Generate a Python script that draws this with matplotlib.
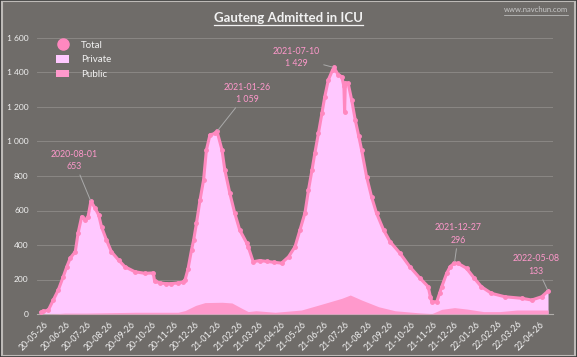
import matplotlib
matplotlib.use("Agg")
import matplotlib.pyplot as plt
import matplotlib.dates as mdates
from matplotlib.lines import Line2D
from matplotlib.patches import Patch
import numpy as np
import pandas as pd

plt.rcParams['font.family'] = ['Lato', 'DejaVu Sans']

# ---- data ----
start = pd.Timestamp("2020-05-26")
total_days = [-3, 0, 7, 14, 21, 28, 33, 38, 45, 49, 54, 59, 63, 67, 73, 78, 82, 89, 96, 106,
              115, 129, 143, 155, 157, 165, 173, 180, 190, 197, 200, 204, 209, 212, 216, 221,
              226, 230, 235, 242, 245, 252, 256, 263, 270, 277, 287, 289, 296, 305, 315, 325,
              336, 346, 355, 362, 369, 374, 379, 383, 388, 393, 397, 402, 408, 410, 416, 421,
              424, 425, 426, 430, 435, 440, 445, 449, 456, 463, 470, 480, 489, 503, 517, 531,
              543, 546, 548, 555, 559, 562, 569, 574, 580, 585, 597, 608, 618, 632, 651, 675,
              689, 703, 712]
total_vals = [10, 15, 23, 81, 139, 216, 274, 325, 361, 470, 564, 545, 564, 653, 614, 574, 506,
              429, 361, 313, 274, 245, 236, 238, 190, 180, 176, 176, 180, 185, 200, 260, 371,
              429, 527, 661, 777, 951, 1038, 1047, 1059, 951, 835, 701, 585, 487, 411, 390,
              303, 310, 305, 300, 295, 332, 390, 487, 585, 719, 835, 933, 1047, 1164, 1260,
              1357, 1414, 1429, 1386, 1376, 1320, 1173, 1340, 1337, 1240, 1125, 1030, 951, 796,
              680, 585, 487, 420, 353, 274, 209, 158, 100, 71, 71, 120, 158, 236, 275, 296,
              294, 265, 207, 158, 120, 100, 91, 81, 100, 133]
public_days = [-3, 20, 30, 60, 100, 130, 190, 200, 215, 228, 252, 266, 280, 289, 300, 327, 364,
               397, 421, 433, 449, 473, 496, 529, 548, 562, 580, 597, 621, 644, 668, 712]
public_vals = [0, 2, 5, 5, 8, 10, 10, 20, 50, 66, 68, 64, 33, 14, 19, 10, 23, 62, 91, 110, 81,
               42, 19, 7, 2, 27, 37, 29, 14, 14, 23, 23]
peaks = [("2020-08-01", 653), ("2021-01-26", 1059), ("2021-07-10", 1429),
         ("2021-12-27", 296), ("2022-05-08", 133)]
peak_offsets = [(-17, 41), (30, 38), (-38, 10), (4, 29), (-12, 26)]

total_dates = [start + pd.Timedelta(days=d) for d in total_days]
public_dates = [start + pd.Timedelta(days=d) for d in public_days]

BG = "#6f6c69"
PRIV = "#ffc8ff"
PUB = "#ff99cc"
TOT = "#ff88bf"
TXT = "#f2f2f2"

fig = plt.figure(figsize=(5.77, 3.57), dpi=100, facecolor=BG)
ax = fig.add_axes([37/577, 1-314/357, (553-37)/577, (314-38)/357])
ax.set_facecolor(BG)

ax.fill_between(total_dates, 0, total_vals, color=PRIV, lw=0, zorder=2)
ax.fill_between(public_dates, 0, public_vals, color=PUB, lw=0, zorder=3)
ax.plot(total_dates, total_vals, color=TOT, lw=2.2, zorder=4)
ax.plot(total_dates, total_vals, 'o', color=TOT, ms=2.5, zorder=5)

ax.set_ylim(0, 1600)
ax.set_xlim(pd.Timestamp("2020-05-17"), pd.Timestamp("2022-05-15"))
ax.set_yticks(range(0, 1601, 200))
ax.set_yticklabels([f"{v:,}".replace(",", " ") for v in range(0, 1601, 200)])
ax.yaxis.grid(True, color="#8a8784", lw=0.7, zorder=0)
ax.set_axisbelow(True)

xt = pd.date_range("2020-05-01", "2022-04-01", freq="MS") + pd.Timedelta(days=25)
ax.set_xticks(xt)
ax.xaxis.set_major_formatter(mdates.DateFormatter("%y-%m-%d"))
for lab in ax.get_xticklabels():
    lab.set_rotation(45)
    lab.set_ha('right')
    lab.set_rotation_mode('anchor')
ax.tick_params(axis='both', length=0, colors=TXT)
ax.tick_params(axis='x', pad=4, labelsize=6.3)
ax.tick_params(axis='y', pad=6, labelsize=6)
for s in ['top', 'right', 'left']:
    ax.spines[s].set_visible(False)
ax.spines['bottom'].set_color("#b0adaa")
ax.spines['bottom'].set_linewidth(0.8)

for (ds, v), (ox, oy) in zip(peaks, peak_offsets):
    ax.annotate(f"{ds}\n{v:,}".replace(",", " "), xy=(pd.Timestamp(ds), v),
                xytext=(ox, oy), textcoords='offset pixels', ha='center', va='center',
                color=PUB, fontsize=6.3, linespacing=1.45,
                arrowprops=dict(arrowstyle='-', color="#aaaaaa", lw=0.7, shrinkA=1, shrinkB=1),
                zorder=6)

handles = [Line2D([], [], marker='o', ls='', color=TOT, ms=8),
           Patch(facecolor=PRIV, edgecolor='none'),
           Patch(facecolor=PUB, edgecolor='none')]
leg = fig.legend(handles, ["Total", "Private", "Public"], loc='upper left',
                 bbox_to_anchor=(51/577, 1-36/357), frameon=False, fontsize=7,
                 labelcolor=TXT, handlelength=1.4, handleheight=0.8, labelspacing=0.55,
                 borderpad=0, handletextpad=1.2)

title = fig.text(0.5, 1-18/357, "Gauteng Admitted in ICU", ha='center', va='center',
                 color=TXT, fontsize=9.5, fontweight='bold')
wm = fig.text(568/577, 1-10/357, "www.navchun.com", ha='right', va='center',
              color="#c8c8c8", fontsize=5.5)

fig.canvas.draw()
r = fig.canvas.get_renderer()
inv = fig.transFigure.inverted()
for t, lw, c in [(title, 0.9, TXT), (wm, 0.5, "#c8c8c8")]:
    bb = t.get_window_extent(r)
    (x0, y0), (x1, y1) = inv.transform([(bb.x0, bb.y0 - 1), (bb.x1, bb.y0 - 1)])
    fig.add_artist(Line2D([x0, x1], [y0, y1], color=c, lw=lw, transform=fig.transFigure))

# frame
fig.add_artist(plt.Rectangle((0.003, 0.004), 0.994, 0.992, transform=fig.transFigure,
                             fill=False, edgecolor="#bdbab7", lw=1.5))
fig.add_artist(plt.Rectangle((0.0, 0.0), 1, 1, transform=fig.transFigure,
                             fill=False, edgecolor="#3a3a3a", lw=1.2))

fig.savefig("out.png", dpi=100, facecolor=BG)
